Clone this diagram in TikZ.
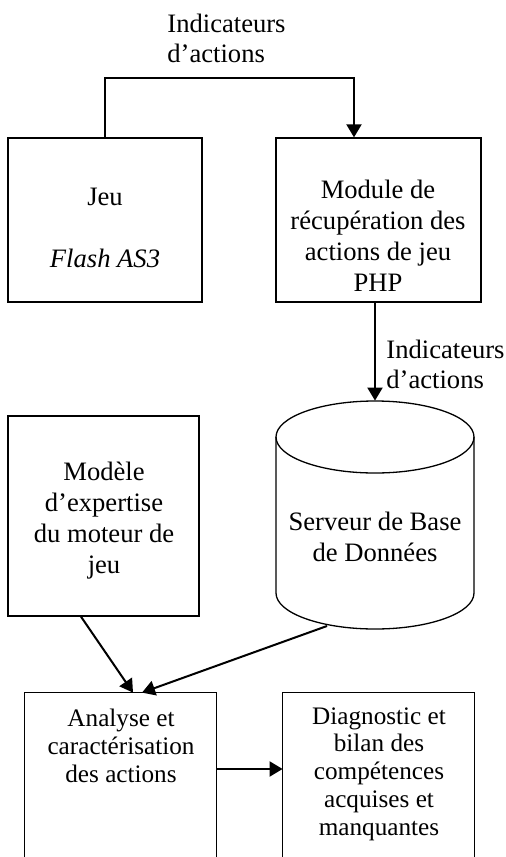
\documentclass[tikz,border=0pt]{standalone}
\usepackage{fontspec}
\setmainfont{Liberation Serif}
\usetikzlibrary{arrows.meta}
\begin{document}
\begin{tikzpicture}[x=0.5pt,y=-0.5pt,
  box/.style={draw, line width=0.65pt, inner sep=0pt},
  hidden/.style={draw=none, inner sep=0pt},
  txt/.style={align=center, inner sep=0pt, font=\fontsize{13.3}{15.5}\selectfont},
  stxt/.style={align=center, inner sep=0pt, font=\fontsize{12.6}{13.85}\selectfont},
  lbl/.style={align=left, inner sep=0pt, anchor=west, font=\fontsize{13.3}{15}\selectfont},
  arr/.style={line width=1pt, -{Triangle[length=6.5pt,width=7.5pt]}}
]
\useasboundingbox (0,0) rectangle (505,857);
% boxes
\node[box, minimum width=97pt, minimum height=82pt] (jeu) at (105,220) {};
\node[box, minimum width=102.5pt, minimum height=82pt] (module) at (378.5,220) {};
\node[box, minimum width=95.5pt, minimum height=100pt] (modele) at (103.5,516) {};
\node[hidden, minimum width=99pt, minimum height=114pt] (db) at (375,515) {};
\node[hidden, minimum width=95.5pt, minimum height=82pt] (analyse) at (120.5,775) {};
\node[hidden, minimum width=95.5pt, minimum height=82pt] (diag) at (378.5,775) {};
% open boxes (cut by the page bottom)
\draw[line width=0.65pt] (analyse.south west) |- (analyse.north east) -- (analyse.south east);
\draw[line width=0.65pt] (diag.south west) |- (diag.north east) -- (diag.south east);
% cylinder
\draw[line width=0.65pt] (375,437) ellipse [x radius=49.5pt, y radius=18pt];
\draw[line width=0.65pt] (276,437) -- (276,593) arc[start angle=180, end angle=360, x radius=49.5pt, y radius=18pt] -- (474,437);
\coordinate (dbout) at (327,626);
% texts
\node[txt] (jeut) at (105,228) {Jeu\\[15.5pt]\textit{Flash AS3}};
\node[txt] (modulet) at (378,236) {Module de\\récupération des\\actions de jeu\\PHP};
\node[txt] (modelet) at (104,521) {Modèle\\d’expertise\\du moteur de\\jeu};
\node[txt] (dbt) at (375,537) {Serveur de Base\\de Données};
\node[stxt] (analyset) at (121,746) {Analyse et\\caractérisation\\des actions};
\node[stxt] (diagt) at (379,774) {Diagnostic et\\bilan des\\compétences\\acquises et\\manquantes};
\node[lbl] (lab1) at (167,38) {Indicateurs\\d’actions};
\node[lbl] (lab2) at (386,364) {Indicateurs\\d’actions};
% connectors
\draw[arr] (jeu.north) -- ++(0,-59) -| ([xshift=-12.25pt]module.north);
\draw[arr] (module.south -| db.north) -- (db.north);
\draw[arr] ([xshift=-11.25pt]modele.south) -- ([xshift=6.25pt]analyse.north);
\draw[arr] (dbout) -- ([xshift=10.75pt]analyse.north);
\draw[arr] ([yshift=3pt]analyse.east) -- ([yshift=3pt]diag.west);
\end{tikzpicture}
\end{document}
